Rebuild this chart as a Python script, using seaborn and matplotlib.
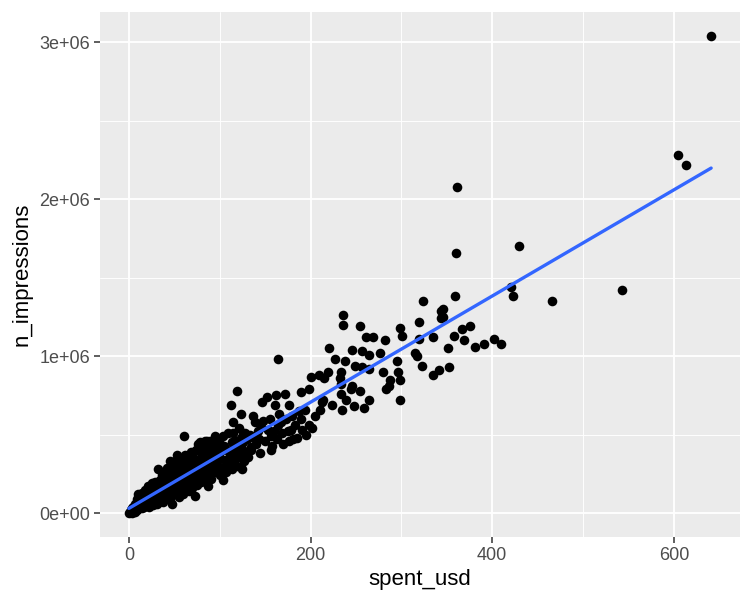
import numpy as np
import pandas as pd
import matplotlib
matplotlib.use("Agg")
import matplotlib.pyplot as plt
import seaborn as sns
from matplotlib.ticker import FixedLocator, FuncFormatter

# spend in usd and impressions (millions)
spent_usd = [
    0, 1, 2, 3, 3, 4, 5, 5, 6, 7, 7, 8, 9, 9, 10, 10,
    11, 12, 12, 13, 14, 14, 15, 16, 16, 17, 18, 18, 19, 20, 20,
    21, 22, 22, 23, 24, 25, 25, 26, 27, 27, 28, 29, 30, 30,
    31, 32, 32, 33, 34, 35, 35, 36, 37, 38, 38, 39, 40, 40,
    41, 42, 43, 43, 44, 45, 45, 46, 47, 47, 48, 49, 50, 50,
    51, 52, 53, 53, 54, 55, 55, 56, 57, 58, 58, 59, 60, 60,
    61, 62, 62, 63, 64, 65, 65, 66, 67, 68, 68, 69, 70, 70,
    71, 72, 73, 73, 74, 75, 75, 76, 77, 78, 78, 79, 80, 80,
    81, 82, 83, 84, 84, 85, 86, 86, 87, 87, 88, 89, 89, 90, 90,
    91, 92, 93, 94, 95, 95, 96, 97, 98, 99, 100, 100,
    102, 103, 104, 104, 105, 106, 107, 108, 109, 110, 111, 112, 113,
    113, 114, 115, 115, 116, 117, 118, 119, 119, 120, 121, 122, 123,
    123, 124, 125, 126, 126, 127, 128, 129, 130,
    131, 133, 134, 135, 137, 138, 139, 140, 142, 143, 144, 146, 147,
    148, 150, 152, 153, 155, 156, 157, 158, 160, 161, 162, 163, 164,
    164, 165, 167, 169, 170, 172, 173, 175, 176, 176, 178, 180, 181,
    183, 185, 187, 189, 189, 191, 194, 195, 198, 198, 200, 202, 205,
    209, 210, 213,
    214, 215, 219, 220, 224, 227, 232, 233, 234, 234, 235, 236, 236,
    238, 239, 245, 246, 246, 248, 249, 254, 254, 257, 257, 259, 261,
    264, 264, 264, 269, 277, 280, 282, 283, 286, 288, 295, 296, 298,
    298, 299, 301, 315, 317, 319, 319, 323, 324, 335, 335, 341, 344,
    344, 346, 346, 351, 352, 358, 359, 360, 361, 367, 369, 376, 381,
    391, 402, 410, 421, 423, 430, 466, 543, 604, 613, 641,
]
n_impressions_m = [
    0.00, 0.01, 0.02, 0.00, 0.03, 0.01, 0.04, 0.02, 0.03, 0.06, 0.01, 0.04, 0.09, 0.02, 0.12, 0.05,
    0.03, 0.07, 0.10, 0.05, 0.03, 0.13, 0.08, 0.06, 0.11, 0.04, 0.09, 0.15, 0.07, 0.05, 0.12,
    0.17, 0.08, 0.04, 0.14, 0.10, 0.07, 0.19, 0.12, 0.05, 0.16, 0.10, 0.20, 0.13, 0.08,
    0.06, 0.28, 0.17, 0.11, 0.21, 0.14, 0.08, 0.24, 0.12, 0.18, 0.07, 0.26, 0.15, 0.10,
    0.21, 0.29, 0.13, 0.17, 0.25, 0.09, 0.33, 0.19, 0.15, 0.06, 0.23, 0.28, 0.12, 0.19,
    0.33, 0.22, 0.37, 0.15, 0.26, 0.10, 0.30, 0.19, 0.24, 0.34, 0.14, 0.27, 0.12, 0.21,
    0.49, 0.37, 0.25, 0.17, 0.31, 0.22, 0.35, 0.14, 0.28, 0.39, 0.19, 0.25, 0.32, 0.16,
    0.36, 0.22, 0.11, 0.29, 0.40, 0.18, 0.33, 0.44, 0.25, 0.45, 0.30, 0.20, 0.37, 0.26,
    0.41, 0.22, 0.33, 0.21, 0.46, 0.29, 0.37, 0.46, 0.17, 0.42, 0.31, 0.25, 0.46, 0.35, 0.22,
    0.39, 0.29, 0.44, 0.33, 0.49, 0.26, 0.37, 0.41, 0.30, 0.46, 0.35, 0.24,
    0.40, 0.29, 0.21, 0.49, 0.43, 0.34, 0.26, 0.40, 0.51, 0.31, 0.37, 0.69, 0.45,
    0.28, 0.40, 0.58, 0.51, 0.34, 0.46, 0.39, 0.78, 0.30, 0.44, 0.54, 0.36, 0.63,
    0.48, 0.41, 0.28, 0.51, 0.45, 0.33, 0.51, 0.39, 0.47,
    0.36, 0.50, 0.42, 0.40, 0.62, 0.48, 0.58, 0.44, 0.52, 0.47, 0.38, 0.55, 0.71,
    0.59, 0.46, 0.74, 0.53, 0.60, 0.49, 0.40, 0.43, 0.52, 0.69, 0.75, 0.47, 0.56,
    0.98, 0.63, 0.58, 0.51, 0.44, 0.76, 0.60, 0.52, 0.69, 0.46, 0.53, 0.62, 0.47,
    0.56, 0.48, 0.65, 0.77, 0.60, 0.53, 0.66, 0.50, 0.79, 0.56, 0.87, 0.54, 0.62,
    0.88, 0.66, 0.71,
    0.72, 0.86, 0.90, 1.05, 0.69, 0.98, 0.86, 0.82, 0.90, 0.76, 0.66, 1.26, 1.20,
    0.97, 0.72, 0.79, 1.04, 0.81, 0.68, 0.94, 1.19, 0.78, 1.03, 0.93, 0.67, 1.12,
    1.01, 0.92, 0.72, 1.12, 1.02, 0.90, 1.10, 0.79, 0.81, 0.85, 0.97, 0.90, 1.18,
    0.85, 0.72, 1.13, 1.02, 1.00, 1.22, 1.11, 0.94, 1.35, 1.12, 0.88, 0.91, 1.29,
    1.24, 1.30, 1.25, 1.05, 0.93, 1.13, 1.38, 1.66, 2.08, 1.17, 1.10, 1.19, 1.06,
    1.08, 1.11, 1.08, 1.44, 1.38, 1.70, 1.35, 1.42, 2.28, 2.22, 3.04,
]

df = pd.DataFrame({
    "spent_usd": spent_usd,
    "n_impressions": np.array(n_impressions_m) * 1e6,
})

sns.set_theme(style="darkgrid", rc={
    "axes.facecolor": "#EBEBEB",
    "grid.color": "white",
    "axes.edgecolor": "#EBEBEB",
    "xtick.bottom": True,
    "ytick.left": True,
})
plt.rcParams["font.family"] = ["Liberation Sans", "DejaVu Sans"]

fig = plt.figure(figsize=(7.5, 6), dpi=100)
ax = fig.add_axes([0.133, 0.105, 0.854, 0.875])

sns.regplot(
    data=df, x="spent_usd", y="n_impressions", ax=ax, ci=None,
    scatter_kws={"s": 48, "color": "black", "linewidths": 0, "alpha": 1},
    line_kws={"color": "#3366FF", "linewidth": 2.4},
)

xmin, xmax = df["spent_usd"].min(), df["spent_usd"].max()
ymin, ymax = df["n_impressions"].min(), df["n_impressions"].max()
xpad, ypad = 0.05 * (xmax - xmin), 0.05 * (ymax - ymin)
ax.set_xlim(xmin - xpad, xmax + xpad)
ax.set_ylim(ymin - ypad, ymax + ypad)

ax.xaxis.set_major_locator(FixedLocator([0, 200, 400, 600]))
ax.xaxis.set_minor_locator(FixedLocator([100, 300, 500]))
ax.yaxis.set_major_locator(FixedLocator([0, 1e6, 2e6, 3e6]))
ax.yaxis.set_minor_locator(FixedLocator([0.5e6, 1.5e6, 2.5e6]))
ax.yaxis.set_major_formatter(FuncFormatter(lambda v, p: f"{int(round(v / 1e6))}e+0{6 if v else 0}"))

ax.grid(which="major", color="white", linewidth=1.3)
ax.grid(which="minor", color="white", linewidth=0.65)
ax.tick_params(which="major", length=4, width=1.1, color="#333333",
               labelcolor="#4D4D4D", labelsize=13, pad=3)
ax.tick_params(which="minor", length=0)
for s in ax.spines.values():
    s.set_visible(False)

ax.set_xlabel("spent_usd", fontsize=16, color="black", labelpad=4)
ax.set_ylabel("n_impressions", fontsize=16, color="black", labelpad=5)

fig.savefig("out.png", dpi=100)
